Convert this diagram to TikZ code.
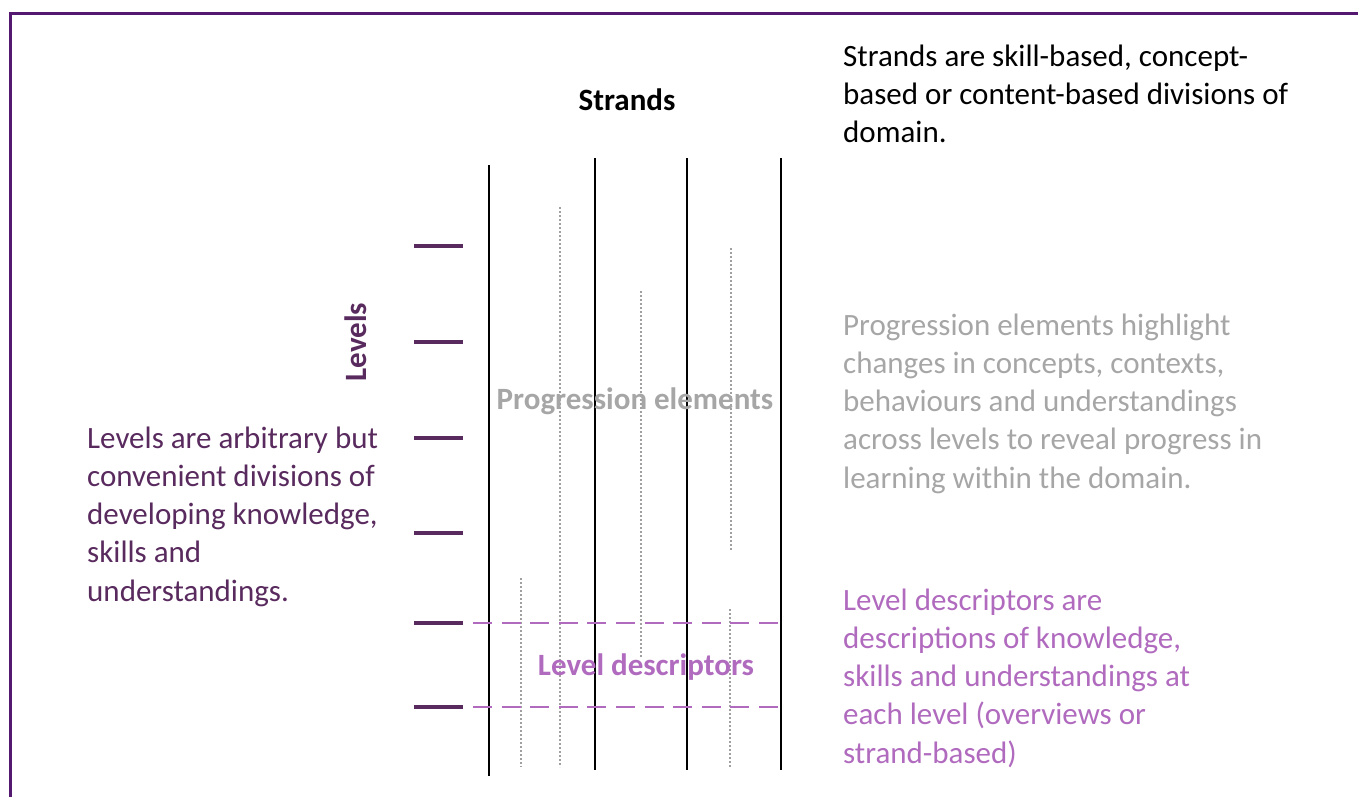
\documentclass[tikz,border=0pt]{standalone}
\usepackage{fontspec}
\setmainfont{Carlito}
\definecolor{framepurple}{RGB}{84,24,112}
\definecolor{darkpurple}{RGB}{89,42,94}
\definecolor{orchid}{RGB}{176,106,190}
\definecolor{paragrey}{RGB}{166,166,166}
\definecolor{dotgrey}{RGB}{160,160,160}
\tikzset{
  body/.style={anchor=base west, inner sep=0pt, font=\fontsize{31}{38.3}\selectfont},
  heading/.style={anchor=base, inner sep=0pt, font=\fontsize{31}{36}\selectfont\bfseries},
  frameline/.style={line width=3pt, framepurple},
  strand/.style={line width=2.6pt, black},
  dotline/.style={line width=2pt, dotgrey, dash pattern=on 2pt off 2pt},
  leveltick/.style={line width=4pt, darkpurple},
  descline/.style={line width=2.4pt, orchid, dash pattern=on 19pt off 9.6pt},
}
\begin{document}
\begin{tikzpicture}[x=1pt,y=-1pt]
\useasboundingbox (0,0) rectangle (1358,796);
% frame
\coordinate (fTL) at (10,13);
\coordinate (fTR) at (1360,13);
\coordinate (fBL) at (10,798);
\draw[frameline] (fTR) -- (fTL) -- (fBL);

% strands (vertical black lines)
\coordinate (s1t) at (489,165); \coordinate (s1b) at (489,776);
\coordinate (s2t) at (595,158); \coordinate (s2b) at (595,770);
\coordinate (s3t) at (687,158); \coordinate (s3b) at (687,770);
\coordinate (s4t) at (781,158); \coordinate (s4b) at (781,770);
\draw[strand] (s1t) -- (s1b);
\draw[strand] (s2t) -- (s2b);
\draw[strand] (s3t) -- (s3b);
\draw[strand] (s4t) -- (s4b);

% dotted progression elements
\coordinate (d1t) at (560,207); \coordinate (d1b) at (560,767);
\coordinate (d2t) at (641,291); \coordinate (d2b) at (641,657);
\coordinate (d3t) at (731,248); \coordinate (d3b) at (731,551);
\coordinate (d4t) at (521,578); \coordinate (d4b) at (521,767);
\coordinate (d5t) at (730,609); \coordinate (d5b) at (730,767);
\draw[dotline] (d1t) -- (d1b);
\draw[dotline] (d2t) -- (d2b);
\draw[dotline] (d3t) -- (d3b);
\draw[dotline] (d4t) -- (d4b);
\draw[dotline] (d5t) -- (d5b);

% level ticks
\foreach \y [count=\i] in {246,342,438,533,623,707}{
  \coordinate (t\i a) at (414,\y);
  \coordinate (t\i b) at (463,\y);
  \draw[leveltick] (t\i a) -- (t\i b);
}
% level descriptor dashed lines
\coordinate (e5a) at (473,623); \coordinate (e5b) at (780,623);
\coordinate (e6a) at (473,707); \coordinate (e6b) at (780,707);
\draw[descline] (e5a) -- (e5b);
\draw[descline] (e6a) -- (e6b);

% labels
\node[heading] (strands) at (627,110) {Strands};
\node[heading, darkpurple, rotate=90] (levels) at (366,342) {Levels};
\node[heading, paragrey] (prog) at (635,409) {Progression elements};
\node[heading, orchid] (desc) at (646,675) {Level descriptors};

% paragraphs
\node[body] (ptop) at (843,66) {\parbox[t]{500pt}{Strands are skill-based, concept-\\based or content-based divisions of\\domain.}};
\node[body, paragrey] (pprog) at (843,335) {\parbox[t]{500pt}{Progression elements highlight\\changes in concepts, contexts,\\behaviours and understandings\\across levels to reveal progress in\\learning within the domain.}};
\node[body, orchid] (pdesc) at (843,610) {\parbox[t]{500pt}{Level descriptors are\\descriptions of knowledge,\\skills and understandings at\\each level (overviews or\\strand-based)}};
\node[body, darkpurple] (plev) at (87,448) {\parbox[t]{320pt}{Levels are arbitrary but\\convenient divisions of\\developing knowledge,\\skills and\\understandings.}};
\end{tikzpicture}
\end{document}
